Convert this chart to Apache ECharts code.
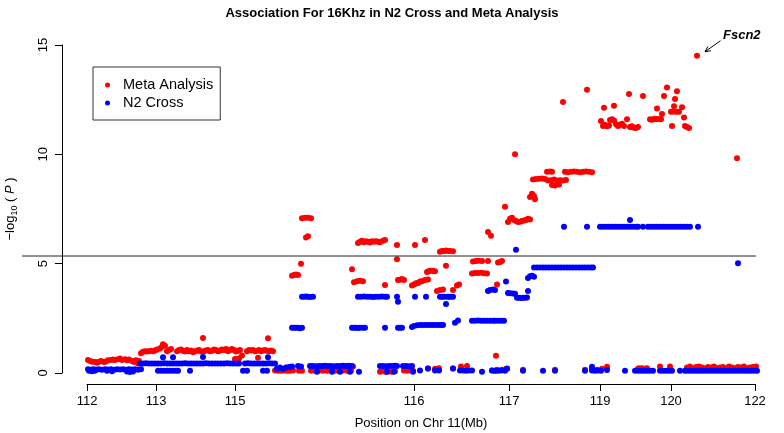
<!DOCTYPE html>
<html>
<head>
<meta charset="utf-8">
<script src="https://cdn.jsdelivr.net/npm/echarts@6/dist/echarts.min.js"></script>
<style>html,body{margin:0;padding:0;background:#fff}#c{width:784px;height:433px}</style>
</head>
<body>
<div id="c"></div>
<script>
// x = marker index along the chromosome segment; tick labels are Mb positions
const tickPositions = [0, 69, 148, 327, 422, 513, 584, 668];
const tickLabels = ['112', '113', '115', '116', '117', '119', '120', '122'];
const yTicks = [0, 5, 10, 15];
const threshold = 5.35;
const peakGene = 'Fscn2';

const metaPoints = [
[1,0.59],[3,0.55],[5,0.52],[8,0.5],[10,0.47],[12,0.52],[14,0.55],[17,0.5],[19,0.53],[21,0.58],[24,0.6],[26,0.62],[28,0.6],[31,0.63],[33,0.66],[35,0.6],[38,0.63],[40,0.58],[42,0.62],[45,0.55],[47,0.5],[49,0.58],[51,0.44],[52,0.55],
[54,0.9],[56,0.97],[58,1.0],[60,0.98],[62,1.0],[64,1.02],[66,1.0],[68,1.03],[70,1.08],
[73,1.12],[75,1.2],[76,1.32],[78,1.25],[80,1.0],[82,1.05],[84,1.1],
[90,1.0],[92,1.05],[94,1.08],[96,1.02],[98,0.98],[100,1.05],[102,1.0],[104,1.03],[106,0.95],[108,1.0],[110,1.02],[112,1.05],[114,0.98],[116,1.6],[117,1.0],[119,1.03],[121,1.05],[123,1.0],[125,1.02],[127,1.07],[129,1.05],[131,1.0],[133,1.03],[135,1.08],[137,1.05],[139,1.1],[141,1.0],[143,1.05],[145,1.1],[147,1.05],[149,0.98],[151,1.02],[153,1.05],
[148,0.64],[150,0.64],[152,0.66],[155,0.8],
[160,1.0],[162,1.05],[164,1.03],[166,1.05],[168,1.0],[170,1.02],[172,1.05],[174,1.0],[176,1.03],[178,1.05],[180,1.02],[182,1.0],[184,1.03],[186,1.0],[171,0.7],[181,1.59],
[188,0.12],[191,0.1],[194,0.1],[197,0.12],[200,0.1],[203,0.1],[206,0.12],
[205,4.45],[207,4.48],[209,4.5],[211,4.48],[214,5.0],
[215,7.08],[218,7.1],[221,7.1],[224,7.08],[219,6.2],[221,6.25],
[212,0.1],[215,0.1],
[224,0.1],[228,0.1],[232,0.12],[236,0.1],[240,0.1],[244,0.12],[248,0.1],[252,0.1],[256,0.12],[260,0.1],[264,0.1],
[254,0.3],[258,0.32],[262,0.33],[266,0.3],
[265,4.75],[267,4.15],[270,4.2],[273,4.22],[276,4.2],
[271,5.95],[273,6.0],[275,6.05],[277,5.98],[279,6.02],[281,6.0],[283,5.97],[285,6.03],[287,6.0],[289,6.02],[291,6.0],[293,5.98],[296,6.05],[298,6.08],
[298,4.02],
[293,0.06],[296,0.08],[299,0.05],[302,0.07],[305,0.06],[308,0.08],
[310,5.85],[310,5.2],[311,4.25],[313,4.27],[315,4.3],[317,4.25],
[317,0.11],[320,0.1],[323,0.11],[326,0.1],
[328,5.85],
[325,4.0],[327,4.05],[329,4.1],[331,4.12],[333,4.18],[335,4.2],[338,4.25],[341,4.28],
[338,6.08],
[340,4.62],[342,4.66],[344,4.68],[346,4.66],[348,4.65],
[341,0.21],[348,0.2],[352,0.22],
[353,5.55],[355,5.58],[357,5.58],[359,5.6],[361,5.58],[363,5.58],[366,5.57],
[359,4.91],
[350,3.75],[353,3.8],[356,3.82],
[366,3.8],[370,4.0],[372,4.05],
[366,0.21],[374,0.3],[380,0.32],
[386,5.1],[389,5.12],[392,5.13],[395,5.12],[401,5.12],
[385,4.55],[388,4.57],[391,4.57],[394,4.58],[397,4.56],[400,4.55],
[401,6.45],[404,6.28],
[411,5.05],[413,5.08],[415,5.12],
[410,4.05],[409,0.79],[405,0.11],[408,0.1],
[418,7.6],
[421,6.9],[423,7.05],[425,7.1],[427,7.0],[429,6.95],[431,6.9],[433,6.92],[435,6.95],[437,6.97],[439,7.0],[441,7.05],[443,7.02],
[410,0.15],[415,0.15],[419,0.18],[420,0.21],
[428,10.0],
[443,8.05],[445,8.2],[447,8.1],[448,7.95],
[446,8.85],[449,8.87],[452,8.88],[455,8.9],[458,8.87],
[460,9.2],[463,9.22],[465,9.2],
[461,8.8],[464,8.82],[467,8.85],[470,8.8],[473,8.82],[476,8.8],[479,8.83],
[465,8.6],[468,8.58],[472,8.62],
[478,9.2],[481,9.18],[484,9.2],[487,9.22],[490,9.2],[493,9.18],[496,9.2],[499,9.22],[502,9.2],[505,9.18],
[476,12.39],[500,12.95],[542,12.76],[556,12.67],[517,12.13],[527,12.22],
[514,11.52],[516,11.3],[518,11.35],[520,11.28],[522,11.32],[523,11.57],[525,11.6],[527,11.55],[529,11.38],[531,11.3],[533,11.35],[535,11.4],[537,11.3],[540,11.6],[543,11.25],[545,11.28],[547,11.22],[549,11.2],[551,11.25],
[436,0.15],[468,0.15],[498,0.15],[505,0.18],[510,0.15],[515,0.2],[520,0.29],[551,0.2],[555,0.22],[558,0.2],
[610,14.51],[580,13.06],[590,12.89],[577,12.67],[588,12.53],[570,12.1],[587,12.2],[595,12.15],
[584,11.95],[587,11.95],[590,11.95],[592,11.95],[575,11.84],
[563,11.6],[565,11.58],[567,11.62],[569,11.6],[571,11.62],[574,11.6],
[597,11.69],[585,11.3],[598,11.3],[600,11.25],[602,11.2],
[650,9.82],
[552,0.22],[556,0.2],[560,0.22],[573,0.3],[583,0.3],
[600,0.25],[603,0.3],[606,0.22],[609,0.28],[612,0.3],[615,0.25],[618,0.22],[621,0.28],[624,0.25],[627,0.3],[630,0.22],[633,0.25],[636,0.28],[639,0.22],[642,0.3],[645,0.25],[648,0.22],[651,0.28],[654,0.25],[657,0.3],[660,0.22],[663,0.25],[666,0.28],[669,0.3]
];

const n2Points = [
[1,0.17],[3,0.15],[6,0.17],[9,0.16],[12,0.17],[15,0.15],[18,0.17],[21,0.16],[24,0.17],[27,0.15],[30,0.17],[33,0.16],[36,0.17],[39,0.15],[42,0.17],[45,0.16],[48,0.17],[51,0.15],[54,0.17],
[2,0.1],[5,0.08],[8,0.1],[20,0.1],[25,0.08],[40,0.07],[43,0.05],[46,0.07],
[53,0.44],[56,0.44],[59,0.45],[62,0.44],[65,0.44],[68,0.43],[71,0.44],[74,0.44],[77,0.45],[80,0.44],[83,0.44],[86,0.44],[89,0.43],[92,0.44],[95,0.44],[98,0.45],[101,0.44],[104,0.44],[107,0.44],[110,0.43],[113,0.44],[116,0.44],[119,0.45],[122,0.44],[125,0.44],[128,0.44],[131,0.43],[134,0.44],[137,0.44],[140,0.45],[143,0.44],[146,0.44],[149,0.44],[152,0.43],[158,0.44],[161,0.45],[164,0.44],[167,0.44],[170,0.44],[173,0.43],[176,0.44],[179,0.44],[182,0.45],[185,0.44],[188,0.44],
[76,0.72],[86,0.72],[116,0.73],[181,0.72],
[71,0.1],[74,0.1],[77,0.1],[80,0.1],[83,0.1],[86,0.1],[89,0.1],[91,0.1],[103,0.1],[156,0.1],[160,0.1],[176,0.1],[180,0.1],
[190,0.2],[193,0.25],[196,0.2],[199,0.25],[202,0.28],[205,0.3],
[205,2.07],[207,2.07],[209,2.07],[211,2.07],[213,2.05],[215,2.07],
[215,3.49],[217,3.49],[219,3.5],[221,3.49],[223,3.48],[226,3.49],
[211,0.32],[214,0.3],
[223,0.32],[226,0.32],[229,0.31],[232,0.32],[235,0.32],[238,0.33],[241,0.32],[244,0.32],[247,0.31],[250,0.32],[253,0.32],[256,0.33],[259,0.32],[262,0.32],[265,0.32],
[230,0.06],[245,0.06],[253,0.06],[263,0.06],[272,0.06],
[265,2.07],[267,2.07],[269,2.07],[271,2.06],[273,2.07],[276,2.07],[278,2.07],
[271,3.49],[274,3.49],[277,3.5],[280,3.49],[283,3.49],[286,3.48],[289,3.49],[292,3.49],[295,3.5],[298,3.49],[300,3.49],
[298,2.07],
[293,0.32],[296,0.32],[299,0.31],[302,0.32],[305,0.32],[308,0.33],[310,0.32],[300,0.06],[307,0.06],
[310,3.49],[311,3.26],
[311,2.07],[313,2.07],[315,2.07],
[316,0.32],[319,0.32],[322,0.31],[325,0.32],[326,0.06],
[328,3.49],[339,3.49],
[325,2.1],[327,2.15],[330,2.18],[333,2.2],[336,2.2],[339,2.2],[342,2.2],[345,2.2],[348,2.2],[351,2.2],[354,2.2],[356,2.2],
[333,0.11],[341,0.21],[348,0.11],[352,0.11],[366,0.21],
[353,3.49],[355,3.49],[357,3.49],[360,3.49],[362,3.49],[364,3.49],[366,3.49],[359,3.15],
[368,2.3],[371,2.4],
[373,0.11],[376,0.11],[379,0.1],[382,0.11],[385,0.11],
[395,0.06],
[385,2.39],[388,2.39],[391,2.4],[394,2.39],[397,2.39],[400,2.39],[403,2.39],[406,2.39],[408,2.39],[411,2.39],[414,2.39],[417,2.39],
[401,3.75],[403,3.8],[406,3.82],[408,3.8],
[419,4.18],
[421,3.66],[423,3.65],[426,3.64],[428,3.62],
[430,3.44],[432,3.44],[434,3.43],[436,3.44],[438,3.44],[440,3.45],[441,3.75],
[429,5.64],
[441,4.35],[443,4.42],[445,4.45],[447,4.4],
[447,4.83],[450,4.83],[453,4.83],[456,4.83],[459,4.83],[462,4.83],[465,4.83],[468,4.83],[471,4.83],[474,4.83],[477,4.83],[480,4.83],[483,4.83],[486,4.83],[489,4.83],[492,4.83],[495,4.83],[498,4.83],[501,4.83],[504,4.83],[506,4.83],
[477,6.69],[500,6.69],
[513,6.69],[516,6.69],[519,6.69],[522,6.69],[525,6.69],[528,6.69],[531,6.69],[534,6.69],[537,6.69],[540,6.69],[543,7.0],[543,6.69],[546,6.69],[549,6.69],[551,6.69],[556,6.69],
[561,6.69],[564,6.69],[567,6.69],[570,6.69],[573,6.69],[576,6.69],[579,6.69],[582,6.69],[585,6.69],[588,6.69],[591,6.69],[594,6.69],[597,6.69],[600,6.69],[603,6.69],[611,6.69],
[651,5.02],
[408,0.1],[411,0.1],[414,0.12],[418,0.1],[405,0.11],[420,0.2],[436,0.1],[456,0.1],[468,0.1],[498,0.1],[505,0.29],[505,0.12],[508,0.1],[511,0.12],[514,0.1],[520,0.14],[538,0.1],
[548,0.1],[551,0.1],[554,0.1],[557,0.1],[560,0.1],[563,0.1],[566,0.1],
[573,0.1],[576,0.1],[579,0.1],[582,0.1],[585,0.1],[593,0.1],
[598,0.1],[601,0.1],[604,0.1],[607,0.1],[610,0.1],[613,0.1],[616,0.1],[619,0.1],[622,0.1],[625,0.1],[628,0.1],[631,0.1],[634,0.1],[637,0.1],[640,0.1],[643,0.1],[646,0.1],[649,0.1],[652,0.1],[655,0.1],[658,0.1],[661,0.1],[664,0.1],[667,0.1],[670,0.1]
];

const FONT = '"Liberation Sans", Arial, Helvetica, sans-serif';
const chart = echarts.init(document.getElementById('c'), null, {renderer: 'canvas'});

const option = {
  animation: false,
  backgroundColor: '#fff',
  textStyle: {fontFamily: FONT},
  title: {
    text: 'Association For 16Khz in N2 Cross and Meta Analysis',
    left: 'center', top: 2,
    textStyle: {fontFamily: FONT, fontSize: 13, fontWeight: 'bold', color: '#000'}
  },
  legend: {
    left: 93, top: 67, orient: 'vertical',
    padding: [10, 7, 9, 12],
    itemWidth: 21, itemHeight: 5, itemGap: 2, icon: 'circle',
    borderColor: '#333', borderWidth: 1,
    textStyle: {fontFamily: FONT, fontSize: 14.5, lineHeight: 16, color: '#000'},
    data: ['Meta Analysis', 'N2 Cross']
  },
  grid: [
    {left: 87, right: 29, top: 45, bottom: 60, outerBoundsMode: 'none', containLabel: false},
    {left: 22, right: 28, top: 45, bottom: 60, outerBoundsMode: 'none', containLabel: false},
    {left: 62, right: 29, top: 45, bottom: 60, outerBoundsMode: 'none', containLabel: false}
  ],
  xAxis: [
    {
      gridIndex: 0, type: 'value', min: 0, max: tickPositions[tickPositions.length - 1],
      position: 'bottom', offset: 11,
      axisLine: {show: true, onZero: false, lineStyle: {color: '#000', width: 1}},
      axisTick: {show: true, length: 7, customValues: tickPositions, lineStyle: {color: '#000'}},
      axisLabel: {
        customValues: tickPositions, margin: 11, fontSize: 13, color: '#000', fontFamily: FONT,
        formatter: function (v) { const i = tickPositions.indexOf(v); return i >= 0 ? tickLabels[i] : ''; }
      },
      splitLine: {show: false},
      name: 'Position on Chr 11(Mb)', nameLocation: 'middle', nameGap: 33,
      nameTextStyle: {fontSize: 13, color: '#000', fontFamily: FONT}
    },
    {gridIndex: 1, type: 'value', min: 0, max: 1, show: false},
    {gridIndex: 2, type: 'value', min: 0, max: 1, show: false}
  ],
  yAxis: [
    {gridIndex: 0, type: 'value', min: yTicks[0], max: yTicks[yTicks.length - 1], show: false},
    {gridIndex: 1, type: 'value', min: yTicks[0], max: yTicks[yTicks.length - 1], show: false},
    {
      gridIndex: 2, type: 'value', min: yTicks[0], max: yTicks[yTicks.length - 1], interval: 5,
      position: 'left',
      axisLine: {show: true, onZero: false, lineStyle: {color: '#000', width: 1}},
      axisTick: {show: true, length: 7, lineStyle: {color: '#000'}},
      axisLabel: {rotate: 90, margin: 12, fontSize: 13, color: '#000', fontFamily: FONT},
      splitLine: {show: false},
      name: '−log{sub|10} ( {it|P} )', nameLocation: 'middle', nameGap: 43,
      nameTextStyle: {
        fontSize: 13, color: '#000', fontFamily: FONT,
        rich: {
          sub: {fontSize: 9, verticalAlign: 'bottom', lineHeight: 18, color: '#000', fontFamily: FONT},
          it: {fontSize: 13, fontStyle: 'italic', color: '#000', fontFamily: FONT}
        }
      }
    }
  ],
  series: [
    {
      name: 'Meta Analysis', type: 'scatter', xAxisIndex: 0, yAxisIndex: 0,
      data: metaPoints, symbol: 'circle', symbolSize: 6, clip: false,
      itemStyle: {color: '#ff0000', opacity: 1}
    },
    {
      name: 'N2 Cross', type: 'scatter', xAxisIndex: 0, yAxisIndex: 0,
      data: n2Points, symbol: 'circle', symbolSize: 6, clip: false,
      itemStyle: {color: '#0000ff', opacity: 1}
    },
    {
      name: 'threshold', type: 'line', xAxisIndex: 1, yAxisIndex: 1,
      data: [[0, threshold], [1, threshold]], symbol: 'none', silent: true,
      lineStyle: {color: '#222', width: 1}
    }
  ]
};
chart.setOption(option);

// annotate the top meta-analysis point
let peak = metaPoints[0];
metaPoints.forEach(p => { if (p[1] > peak[1]) peak = p; });
const pp = chart.convertToPixel({xAxisIndex: 0, yAxisIndex: 0}, peak);
const ax1 = pp[0] + 23.5, ay1 = pp[1] - 15, ax2 = pp[0] + 8, ay2 = pp[1] - 4;
const ang = Math.atan2(ay2 - ay1, ax2 - ax1), hl = 6, ha = 0.45;
chart.setOption({
  graphic: [
    {type: 'line', shape: {x1: ax1, y1: ay1, x2: ax2, y2: ay2}, style: {stroke: '#000', lineWidth: 1}},
    {type: 'polyline', shape: {points: [
      [ax2 - hl * Math.cos(ang - ha), ay2 - hl * Math.sin(ang - ha)], [ax2, ay2],
      [ax2 - hl * Math.cos(ang + ha), ay2 - hl * Math.sin(ang + ha)]]},
      style: {stroke: '#000', lineWidth: 1, fill: null}},
    {type: 'text', x: pp[0] + 26, y: pp[1] - 20,
      style: {text: peakGene, font: 'italic bold 13px ' + FONT, fill: '#000', verticalAlign: 'middle', align: 'left'}}
  ]
});
</script>
</body>
</html>
